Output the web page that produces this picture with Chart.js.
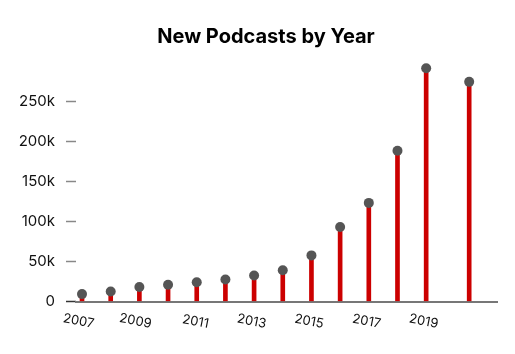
<!DOCTYPE html>
<html>
<head>
<meta charset="utf-8">
<script src="https://cdn.jsdelivr.net/npm/chart.js@4/dist/chart.umd.min.js"></script>
<style>
  html, body { margin: 0; padding: 0; background: #fff; }
  #wrap { width: 515px; height: 354px; }
</style>
</head>
<body>
<div id="wrap"><canvas id="c" width="515" height="354"></canvas></div>
<script>
const titleText = "New Podcasts by Year";
const years = [2007, 2008, 2009, 2010, 2011, 2012, 2013, 2014, 2015, 2016, 2017, 2018, 2019, 2020.5];
const newPodcasts = [9200, 12500, 18000, 21000, 24000, 27500, 32500, 39000, 57500, 93000, 123000, 188000, 291000, 274000];
const xTickValues = [2007, 2009, 2011, 2013, 2015, 2017, 2019];
const yTickValues = [0, 50000, 100000, 150000, 200000, 250000];
const yTickLabels = ["0", "50k", "100k", "150k", "200k", "250k"];

const points = years.map((x, i) => ({ x: x, y: newPodcasts[i] }));

const titleShift = {
  id: "titleShift",
  afterLayout(chart) {
    if (chart.titleBlock) { chart.titleBlock.left = 35; }
  }
};

new Chart(document.getElementById("c"), {
  plugins: [titleShift],
  data: {
    datasets: [
      {
        type: "scatter",
        data: points,
        pointRadius: 5,
        pointHoverRadius: 5,
        pointBackgroundColor: "#555555",
        pointBorderWidth: 0,
        order: 0,
        clip: false
      },
      {
        type: "bar",
        data: points,
        backgroundColor: "#cc0000",
        barThickness: 4,
        borderWidth: 0,
        order: 1
      }
    ]
  },
  options: {
    responsive: false,
    animation: false,
    layout: { padding: { top: 15, left: 7, right: 18, bottom: 14.5 } },
    plugins: {
      legend: { display: false },
      tooltip: { enabled: false },
      title: {
        display: true,
        text: titleText,
        color: "#000",
        font: { family: "Inter", size: 20, weight: "bold" },
        padding: { top: 10, bottom: 12 }
      }
    },
    scales: {
      x: {
        type: "linear",
        offset: false,
        min: 2006.79,
        max: 2021.47,
        afterBuildTicks: (scale) => { scale.ticks = xTickValues.map(v => ({ value: v })); },
        afterFit: (scale) => {
          scale.paddingLeft = 0;
          scale.paddingRight = 0;
          scale.height = 38;
        },
        grid: { display: true, offset: false, drawOnChartArea: false, drawTicks: false },
        border: { display: true, color: "#777", width: 2 },
        ticks: {
          color: "#111",
          font: { family: "Inter", size: 13 },
          minRotation: -11,
          maxRotation: -11,
          labelOffset: 12,
          padding: 15,
          autoSkip: false,
          callback: (v) => String(v)
        }
      },
      y: {
        type: "linear",
        min: 0,
        max: 300000,
        afterBuildTicks: (scale) => { scale.ticks = yTickValues.map(v => ({ value: v })); },
        afterFit: (scale) => { scale.width = 69; },
        grid: {
          drawOnChartArea: false,
          drawTicks: true,
          tickLength: 10,
          tickWidth: 1.5,
          tickColor: (ctx) => (ctx.tick && ctx.tick.value === 0 ? "#333" : "#888")
        },
        border: { display: false },
        ticks: {
          color: "#111",
          font: { family: "Inter", size: 15 },
          padding: 11,
          callback: (v) => yTickLabels[yTickValues.indexOf(v)]
        }
      }
    }
  }
});
</script>
</body>
</html>
